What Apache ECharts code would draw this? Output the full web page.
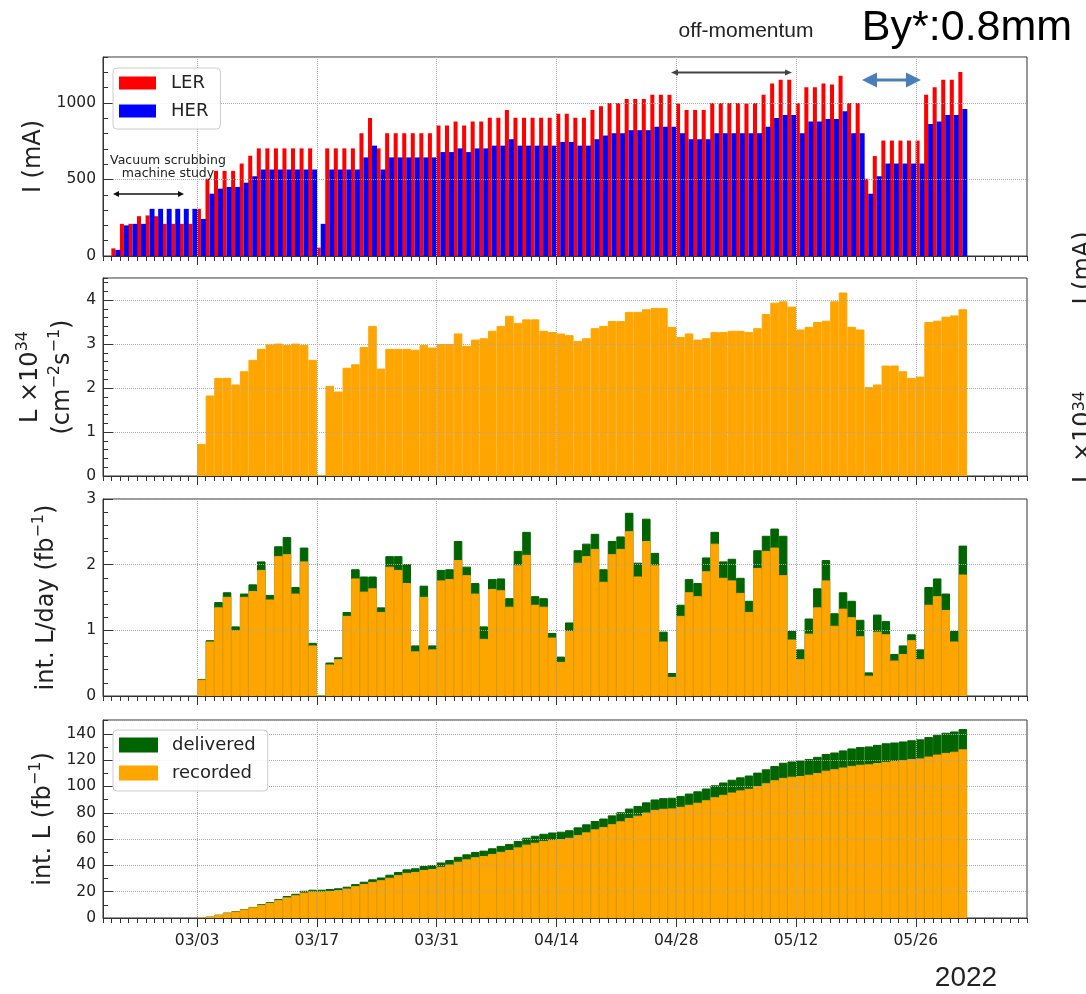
<!DOCTYPE html>
<html><head><meta charset="utf-8">
<script src="https://cdn.jsdelivr.net/npm/echarts@6/dist/echarts.min.js"></script>
<style>html,body{margin:0;padding:0;background:#fff;}#c{width:1086px;height:994px;}</style>
</head><body><div id="c"></div>
<script>
// ---------- categories ----------
const tickCats = [];
(function(){ const s = Date.UTC(2022,1,20); for (let i=0;i<109;i++){ const d=new Date(s+i*86400000);
  tickCats.push(String(d.getUTCMonth()+1).padStart(2,'0')+'/'+String(d.getUTCDate()).padStart(2,'0')); } })();
const dayCats = tickCats.slice(0,108);   // Feb 20 .. Jun 7 (one band per day)
const majorTicks = ['03/03','03/17','03/31','04/14','04/28','05/12','05/26'];
const currentStart = '02/21';
const lumiStart = '03/03';

// ---------- data ----------
const LER = [50,210,210,260,265,260,210,210,210,210,
 308,505,556,556,556,604,655,703,703,703,
 703,703,703,703,55,703,703,703,703,802,
 901,703,802,802,802,802,802,802,853,853,
 879,853,879,879,903,903,954,903,903,903,
 903,903,930,930,903,903,954,978,1000,1000,
 1026,1026,1026,1053,1053,1053,996,954,954,954,
 1000,1000,1000,1000,996,1000,1053,1127,1152,1152,
 1000,1103,1103,1127,1121,1178,1000,1000,505,653,
 754,754,754,754,754,1053,1103,1152,1152,1202];
const HER = [40,200,210,210,308,308,308,308,308,308,
 242,407,440,451,451,479,521,565,565,565,
 565,565,565,565,210,565,565,565,565,644,
 721,565,644,644,644,644,644,644,679,679,
 703,679,703,703,721,721,763,721,721,721,
 721,721,745,745,721,721,763,787,802,802,
 822,822,822,844,844,844,802,763,763,763,
 802,802,802,802,802,802,844,901,921,921,
 802,879,879,895,895,945,802,802,407,521,
 604,604,604,604,604,862,879,921,921,960];
const peakL = [0.73,1.83,2.23,2.23,2.08,2.38,2.64,2.89,2.99,3.01,
 2.98,3.01,2.98,2.64,0,2.05,1.92,2.46,2.54,2.93,
 3.41,2.44,2.89,2.89,2.89,2.87,2.98,2.92,3.00,3.00,
 3.24,2.96,3.10,3.13,3.30,3.41,3.64,3.48,3.56,3.56,
 3.30,3.27,3.24,3.20,3.07,3.13,3.36,3.41,3.52,3.52,
 3.73,3.73,3.79,3.82,3.82,3.39,3.16,3.24,3.10,3.13,
 3.27,3.27,3.30,3.30,3.27,3.36,3.68,3.94,3.97,3.85,
 3.33,3.39,3.50,3.53,3.97,4.17,3.39,3.33,2.02,2.08,
 2.51,2.51,2.38,2.23,2.26,3.50,3.53,3.62,3.65,3.79];
const recDaily = [0.25,0.83,1.35,1.51,1.00,1.51,1.60,1.92,1.47,2.13,
 2.16,1.56,2.05,0.77,0,0.48,0.56,1.22,1.79,1.59,
 1.64,1.28,1.97,1.92,1.72,0.68,1.51,0.71,1.76,1.78,
 2.07,1.84,1.56,0.87,1.63,1.61,1.36,1.99,2.15,1.39,
 1.36,0.89,0.52,0.99,2.03,2.13,2.24,1.74,2.16,2.24,
 2.51,1.82,2.36,1.99,0.83,0.29,1.22,1.58,1.52,1.90,
 2.32,1.80,1.76,1.57,1.28,1.95,2.21,2.26,1.84,0.86,
 0.56,0.95,1.35,1.76,1.07,1.33,1.20,0.91,0.31,0.98,
 0.94,0.54,0.64,0.85,0.56,1.39,1.52,1.31,0.83,1.85];
const delDaily = [0.26,0.85,1.43,1.58,1.06,1.56,1.70,2.05,1.54,2.28,
 2.42,1.66,2.26,0.81,0,0.51,0.59,1.28,1.93,1.82,
 1.82,1.35,2.13,2.13,2.01,0.77,1.68,0.77,1.92,1.93,
 2.36,1.97,1.72,1.06,1.78,1.79,1.49,2.21,2.50,1.52,
 1.49,0.96,0.60,1.12,2.22,2.32,2.47,1.93,2.36,2.43,
 2.79,2.03,2.70,2.18,0.98,0.35,1.39,1.78,1.72,2.11,
 2.50,2.05,2.09,1.80,1.45,2.22,2.44,2.55,2.44,0.99,
 0.71,1.18,1.64,2.07,1.26,1.58,1.45,1.16,0.36,1.24,
 1.14,0.64,0.77,0.94,0.71,1.66,1.79,1.56,0.99,2.29];
const recCum = [0.3,1.1,2.4,3.9,4.9,6.5,8.1,10.0,11.4,13.6,
 15.7,17.3,19.3,20.1,20.1,20.6,21.2,22.4,24.2,25.8,
 27.4,28.7,30.6,32.6,34.3,35.0,36.5,37.2,38.9,40.7,
 42.8,44.6,46.2,47.1,48.7,50.3,51.7,53.7,55.8,57.2,
 58.6,59.4,60.0,61.0,63.0,65.1,67.4,69.1,71.3,73.5,
 76.0,77.8,80.2,82.2,83.0,83.3,84.5,86.1,87.6,89.5,
 91.8,93.6,95.4,97.0,98.2,100.2,102.4,104.7,106.5,107.4,
 107.9,108.9,110.2,112.0,113.1,114.4,115.6,116.5,116.8,117.8,
 118.7,119.3,119.9,120.8,121.3,122.7,124.2,125.5,126.4,128.2];
const delCum = [0.3,1.1,2.5,4.1,5.2,6.7,8.4,10.5,12.0,14.3,
 16.7,18.4,20.7,21.5,21.5,22.0,22.6,23.8,25.8,27.6,
 29.4,30.8,32.9,35.0,37.0,37.8,39.5,40.3,42.2,44.1,
 46.5,48.4,50.2,51.2,53.0,54.8,56.3,58.5,61.0,62.5,
 64.0,65.0,65.6,66.7,68.9,71.2,73.7,75.6,78.0,80.4,
 83.2,85.2,87.9,90.1,91.1,91.4,92.8,94.6,96.3,98.4,
 100.9,103.0,105.1,106.9,108.3,110.5,113.0,115.5,118.0,119.0,
 119.7,120.9,122.5,124.6,125.8,127.4,128.9,130.0,130.4,131.6,
 132.8,133.4,134.2,135.1,135.8,137.5,139.3,140.8,141.8,143.6];

// ---------- helpers ----------
function pairs(startCat, vals){ const s = dayCats.indexOf(startCat); return vals.map((v,i)=>[dayCats[s+i], v]); }
const isMajor = (idx, val) => majorTicks.indexOf(val) >= 0;
const AX = '#333', TXT = '#222', GRIDC = '#a8a8a8';
const FF = 'DejaVu Sans';

const grids = [
  {left:103, width:924, top:57,  height:199},
  {left:103, width:924, top:278, height:198},
  {left:103, width:924, top:499, height:197},
  {left:103, width:924, top:720, height:198}
].map(g => Object.assign({show:true, borderColor:AX, borderWidth:1, backgroundColor:'transparent', outerBoundsMode:'none'}, g));

const xAxis = [];
for (let g=0; g<4; g++){
  xAxis.push({type:'category', gridIndex:g, position:'bottom', data:dayCats, boundaryGap:true, show:false});
  xAxis.push({type:'category', gridIndex:g, position:'bottom', data:tickCats, boundaryGap:false, z:5,
    axisLine:{show:false}, axisTick:{show:true, interval:0, length:5, lineStyle:{color:AX}},
    axisLabel:{show:false}, splitLine:{show:false}});
  xAxis.push({type:'category', gridIndex:g, position:'bottom', data:tickCats, boundaryGap:false, z:5,
    axisLine:{show:true, lineStyle:{color:AX}}, axisTick:{show:true, interval:isMajor, length:9, lineStyle:{color:AX}},
    axisLabel:{show:g===3, interval:isMajor, margin:15, fontSize:15.5, color:TXT, fontFamily:FF},
    splitLine:{show:true, interval:isMajor, lineStyle:{color:GRIDC, type:'dotted', width:1}}});
}

const nameStyle = {fontSize:24, fontFamily:FF, color:TXT,
  rich:{n:{fontSize:24, fontFamily:FF, color:TXT, lineHeight:32},
        s:{fontSize:16, fontFamily:FF, color:TXT, verticalAlign:'top', lineHeight:32}}};
const yDefs = [
  {max:1300, major:500, minor:100, name:'I (mA)', gap:40, showMax:false},
  {max:4.5, major:1, minor:0.2, name:'{n|L ×10}{s|34}\n{n|(cm}{s|−2}{n|s}{s|−1}{n|)}', gap:18, showMax:false},
  {max:3, major:1, minor:0.2, name:'{n|int. L/day (fb}{s|−1}{n|)}', gap:40, showMax:true},
  {max:150.5, major:20, minor:10, name:'{n|int. L (fb}{s|−1}{n|)}', gap:40, showMax:false}
];
const yAxis = [];
yDefs.forEach((d,g)=>{
  yAxis.push({type:'value', gridIndex:g, position:'left', min:0, max:d.max, interval:d.major, z:5,
    axisLine:{show:true, lineStyle:{color:AX}},
    axisTick:{show:true, inside:true, length:10, lineStyle:{color:AX}},
    axisLabel:{show:true, margin:7, fontSize:15.5, color:TXT, fontFamily:FF, showMaxLabel:d.showMax, showMinLabel:true,
      formatter: v => String(v)},
    splitLine:{show:true, lineStyle:{color:GRIDC, type:'dotted', width:1}},
    name:d.name, nameLocation:'middle', nameGap:d.gap, nameRotate:90, nameTextStyle:nameStyle});
  yAxis.push({type:'value', gridIndex:g, position:'left', min:0, max:d.max, interval:d.minor, z:5,
    axisLine:{show:false}, axisTick:{show:true, inside:true, length:5, lineStyle:{color:AX}},
    axisLabel:{show:false}, splitLine:{show:false}});
});

const RED='#ff0000', BLUE='#0000ff', ORANGE='#ffa500', GREEN='#006400';
const fill = c => ({color:c, borderColor:c, borderWidth:1});
const series = [
  {name:'LER', type:'bar', xAxisIndex:0, yAxisIndex:0, data:pairs(currentStart, LER), barWidth:'47%', barGap:'0%', itemStyle:{color:RED}},
  {name:'HER', type:'bar', xAxisIndex:0, yAxisIndex:0, data:pairs(currentStart, HER), barWidth:'58%', barGap:'0%', itemStyle:{color:BLUE}},
  {name:'L', type:'bar', xAxisIndex:3, yAxisIndex:2, data:pairs(lumiStart, peakL), barWidth:'100%', itemStyle:fill(ORANGE)},
  {name:'delivered', type:'bar', xAxisIndex:6, yAxisIndex:4, data:pairs(lumiStart, delDaily), barWidth:'100%', barGap:'-100%', itemStyle:fill(GREEN)},
  {name:'recorded', type:'bar', xAxisIndex:6, yAxisIndex:4, data:pairs(lumiStart, recDaily), barWidth:'100%', barGap:'-100%', itemStyle:fill(ORANGE)},
  {name:'delivered', type:'bar', xAxisIndex:9, yAxisIndex:6, data:pairs(lumiStart, delCum), barWidth:'100%', barGap:'-100%', itemStyle:fill(GREEN)},
  {name:'recorded', type:'bar', xAxisIndex:9, yAxisIndex:6, data:pairs(lumiStart, recCum), barWidth:'100%', barGap:'-100%', itemStyle:fill(ORANGE)}
];

const legendBase = {orient:'vertical', icon:'rect', itemWidth:37, itemHeight:13, itemGap:10, selectedMode:false, z:10,
  textStyle:{fontSize:18, fontFamily:FF, color:TXT, padding:[0,0,0,10]},
  backgroundColor:'rgba(255,255,255,0.85)', borderColor:'#cccccc', borderWidth:1, borderRadius:4, padding:[6,12,9,6]};
const legend = [
  Object.assign({}, legendBase, {left:113, top:68, data:['LER','HER']}),
  Object.assign({}, legendBase, {left:113, top:730, data:['delivered','recorded']})
];

function arrow(x1, x2, y, color, lw, hl, hw){
  return [
    {type:'line', shape:{x1:x1+hl*0.6, y1:y, x2:x2-hl*0.6, y2:y}, style:{stroke:color, lineWidth:lw}, z:100},
    {type:'polygon', shape:{points:[[x1,y],[x1+hl,y-hw],[x1+hl,y+hw]]}, style:{fill:color}, z:100},
    {type:'polygon', shape:{points:[[x2,y],[x2-hl,y-hw],[x2-hl,y+hw]]}, style:{fill:color}, z:100}
  ];
}
const graphic = [].concat(
  arrow(113, 184, 194, '#111', 1.3, 6, 3),
  arrow(671, 792, 72.5, '#444', 1.8, 7, 3),
  arrow(862, 921, 80, '#4a7ebb', 3, 15, 7.5),
  [
    {type:'text', x:168, y:167, z:100, style:{text:'Vacuum scrubbing\nmachine study', fontSize:12.5, fontFamily:FF, fill:TXT, align:'center', verticalAlign:'middle', lineHeight:13.5}},
    {type:'text', x:746, y:31, z:100, style:{text:'off-momentum', fontSize:21, fontFamily:'Liberation Sans', fill:TXT, align:'center', verticalAlign:'middle'}},
    {type:'text', x:967, y:28, z:100, style:{text:'By*:0.8mm', fontSize:43, fontFamily:'Liberation Sans', fill:'#000', align:'center', verticalAlign:'middle'}},
    {type:'text', x:966, y:978, z:100, style:{text:'2022', fontSize:28, fontFamily:'Liberation Sans', fill:TXT, align:'center', verticalAlign:'middle'}},
    {type:'text', x:1084, y:268, rotation:Math.PI/2, z:100, style:{text:'I (mA)', fontSize:24, fontFamily:FF, fill:TXT, align:'center', verticalAlign:'middle'}},
    {type:'text', x:1084, y:437, rotation:Math.PI/2, z:100, style:{text:'{n|L ×10}{s|34}', fontFamily:FF, fill:TXT, align:'center', verticalAlign:'middle',
       rich:{n:{fontSize:24, fontFamily:FF, fill:TXT}, s:{fontSize:16, fontFamily:FF, fill:TXT, verticalAlign:'top'}}}}
  ]
);

const chart = echarts.init(document.getElementById('c'), null, {renderer:'canvas'});
chart.setOption({animation:false, backgroundColor:'#fff', grid:grids, xAxis, yAxis, series, legend, graphic});
</script></body></html>
